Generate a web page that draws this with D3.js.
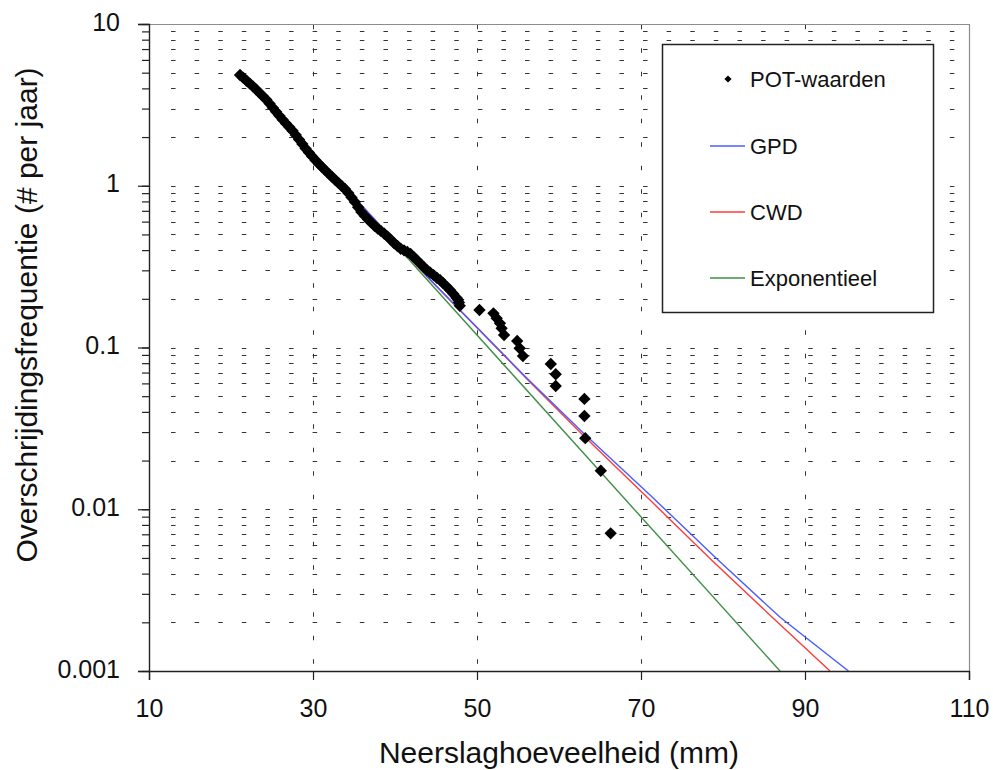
<!DOCTYPE html>
<html>
<head>
<meta charset="utf-8">
<script src="https://cdn.jsdelivr.net/npm/d3@7"></script>
<style>
  html, body { margin: 0; padding: 0; background: #fff; }
  svg { display: block; font-family: "Liberation Sans", Arial, sans-serif; }
</style>
</head>
<body>
<svg id="chart" width="993" height="770"></svg>
<script>
// ---------- data ----------
const xTickValues = [10, 30, 50, 70, 90, 110];
const xTickLabels = ["10", "30", "50", "70", "90", "110"];
const yTickValues = [0.001, 0.01, 0.1, 1, 10];
const yTickLabels = ["0.001", "0.01", "0.1", "1", "10"];
const xGridValues = [30, 50, 70, 90];

// POT-waarden: rainfall (mm) and exceedance frequency (# per year)
const potX = [21.1, 21.5, 21.9, 22.3, 22.7, 23.1, 23.5, 23.9, 24.3, 24.7,
  25.1, 25.5, 25.9, 26.3, 26.7, 27.1, 27.5, 27.9, 28.3, 28.7,
  29.1, 29.5, 29.9, 30.3, 30.7, 31.1, 31.5, 31.9, 32.3, 32.7,
  33.1, 33.5, 33.9, 34.3, 34.7, 35.1, 35.5, 35.9, 36.3, 36.7,
  37.1, 37.5, 37.9, 38.3, 38.7, 39.1, 39.5, 39.9, 40.3, 40.7,
  41.1, 41.5, 41.9, 42.3, 42.7, 43.1, 43.5, 43.9, 44.3, 44.7,
  45.1, 45.5, 45.9, 46.3, 46.7, 47.1, 47.5, 47.7, 47.8, 47.9,
  50.3, 52.0, 52.4, 52.8, 53.0, 53.3, 54.9, 55.2, 55.6, 59.0,
  59.6, 59.6, 63.1, 63.1, 63.2, 65.1, 66.3];
const potF = [4.84, 4.645, 4.457, 4.278, 4.105, 3.92, 3.741, 3.571, 3.409, 3.22,
  3.038, 2.866, 2.704, 2.562, 2.43, 2.306, 2.188, 2.058, 1.93, 1.811,
  1.698, 1.603, 1.518, 1.438, 1.368, 1.305, 1.246, 1.189, 1.137, 1.088,
  1.041, 0.997, 0.955, 0.902, 0.847, 0.794, 0.736, 0.687, 0.652, 0.621,
  0.592, 0.566, 0.543, 0.524, 0.505, 0.485, 0.463, 0.441, 0.424, 0.408,
  0.399, 0.39, 0.379, 0.362, 0.345, 0.33, 0.315, 0.301, 0.29, 0.28,
  0.27, 0.261, 0.249, 0.238, 0.227, 0.215, 0.203, 0.197, 0.19, 0.181,
  0.1706, 0.1627, 0.1515, 0.1411, 0.1314, 0.1195, 0.1097, 0.0989, 0.0886, 0.0791,
  0.0683, 0.0578, 0.0481, 0.0377, 0.0275, 0.0173, 0.0071];

// fitted curves
const gpdX = [21, 33, 44, 56, 63, 71.1, 79.4, 87, 95.3];
const gpdF = [5.01, 1.096, 0.272, 0.0653, 0.0295, 0.01225, 0.00485, 0.00214, 0.001];
const cwdX = [21, 33, 44, 56, 63, 71.1, 78.6, 86, 93.05];
const cwdF = [5.01, 1.096, 0.271, 0.0646, 0.0285, 0.0114, 0.00485, 0.00215, 0.001];
const expX = [21, 86.95];
const expF = [5.1, 0.001];

const legendNames = ["POT-waarden", "GPD", "CWD", "Exponentieel"];
const lineColors = {GPD: "#4a5cff", CWD: "#ff3b3b", Exponentieel: "#3d8f45"};

// ---------- layout ----------
const svg = d3.select("#chart");
const L = 149, R = 969, T = 24, B = 671;
const x = d3.scaleLinear().domain([10, 110]).range([L, R]);
const y = d3.scaleLog().domain([0.001, 10]).range([B, T]);

// minor grid values
const minorVals = [];
[0.001, 0.01, 0.1, 1].forEach(d => { for (let k = 1; k <= 9; k++) minorVals.push(+(k * d).toPrecision(3)); });
minorVals.push(10);

// horizontal dashed gridlines
svg.append("g").selectAll("line").data(minorVals.filter(v => v < 10)).join("line")
  .attr("x1", L + 22.05).attr("x2", R)
  .attr("y1", d => Math.round(y(d)) + 0.5).attr("y2", d => Math.round(y(d)) + 0.5)
  .attr("stroke", "#333").attr("stroke-width", 1)
  .attr("stroke-dasharray", "4.5 19.1");

// vertical dashed gridlines
svg.append("g").selectAll("line").data(xGridValues).join("line")
  .attr("x1", d => Math.round(x(d)) + 0.5).attr("x2", d => Math.round(x(d)) + 0.5)
  .attr("y1", T + 0.75).attr("y2", B)
  .attr("stroke", "#333").attr("stroke-width", 1)
  .attr("stroke-dasharray", "4.5 19");

// top and right frame (grey)
svg.append("line").attr("x1", L).attr("x2", R).attr("y1", T + 0.5).attr("y2", T + 0.5)
  .attr("stroke", "#8c8c8c").attr("stroke-width", 1.2);
svg.append("line").attr("x1", R + 0.5).attr("x2", R + 0.5).attr("y1", T).attr("y2", B)
  .attr("stroke", "#8c8c8c").attr("stroke-width", 1.2);

// clip
svg.append("clipPath").attr("id", "clip").append("rect")
  .attr("x", L).attr("y", T).attr("width", R - L).attr("height", B - T);

// fitted lines
const line = d3.line().x(d => x(d[0])).y(d => y(d[1]));
const series = [
  {name: "Exponentieel", xs: expX, fs: expF},
  {name: "CWD", xs: cwdX, fs: cwdF},
  {name: "GPD", xs: gpdX, fs: gpdF}
];
const gl = svg.append("g").attr("clip-path", "url(#clip)");
series.forEach(s => {
  gl.append("path").datum(s.xs.map((v, i) => [v, s.fs[i]]))
    .attr("d", line).attr("fill", "none")
    .attr("stroke", lineColors[s.name]).attr("stroke-width", 1.4);
});

// POT points (diamonds)
const diamond = d3.symbol().type(d3.symbolSquare).size(76);
svg.append("g").selectAll("path").data(potX.map((v, i) => [v, potF[i]])).join("path")
  .attr("d", diamond)
  .attr("transform", d => `translate(${x(d[0])},${y(d[1])}) rotate(45)`)
  .attr("fill", "#000");

// axes
const xAxis = d3.axisBottom(x).tickValues(xTickValues).tickSize(9)
  .tickFormat((d, i) => xTickLabels[i]);
const gx = svg.append("g").attr("transform", `translate(0,${B})`).call(xAxis);
gx.select(".domain").attr("stroke", "#222").attr("stroke-width", 1.4);
gx.selectAll(".tick line").attr("stroke", "#222").attr("stroke-width", 1.2);
gx.selectAll(".tick text").attr("font-size", 25).attr("fill", "#111")
  .attr("font-family", "'Liberation Sans', Arial, sans-serif").attr("y", 45.5).attr("dy", 0);

const yMinor = d3.axisLeft(y).tickValues(minorVals).tickSize(7).tickFormat("");
const gym = svg.append("g").attr("transform", `translate(${L},0)`).call(yMinor);
gym.select(".domain").remove();
gym.selectAll(".tick line").attr("stroke", "#222").attr("stroke-width", 1.2);

const yAxis = d3.axisLeft(y).tickValues(yTickValues).tickSize(11).tickPadding(18)
  .tickFormat((d, i) => yTickLabels[i]);
const gy = svg.append("g").attr("transform", `translate(${L},0)`).call(yAxis);
gy.select(".domain").attr("stroke", "#222").attr("stroke-width", 1.4);
gy.selectAll(".tick line").attr("stroke", "#222").attr("stroke-width", 1.2);
gy.selectAll(".tick text").attr("font-size", 25).attr("fill", "#111")
  .attr("font-family", "'Liberation Sans', Arial, sans-serif").attr("dy", 6);

// axis titles
svg.append("text").attr("x", (L + R) / 2).attr("y", 763)
  .attr("text-anchor", "middle").attr("font-size", 30).attr("fill", "#111")
  .text("Neerslaghoeveelheid (mm)");
svg.append("text").attr("transform", "translate(37,315) rotate(-90)")
  .attr("text-anchor", "middle").attr("font-size", 30).attr("fill", "#111")
  .text("Overschrijdingsfrequentie (# per jaar)");

// legend
const lg = svg.append("g");
lg.append("rect").attr("x", 662.5).attr("y", 44.5).attr("width", 271).attr("height", 268)
  .attr("fill", "#fff").attr("stroke", "#222").attr("stroke-width", 1.5);
const legendY = [79, 146, 212, 278];
legendNames.forEach((name, i) => {
  const ly = legendY[i];
  if (i === 0) {
    lg.append("path").attr("d", d3.symbol().type(d3.symbolSquare).size(26))
      .attr("transform", `translate(728,${ly}) rotate(45)`).attr("fill", "#000");
  } else {
    lg.append("line").attr("x1", 710).attr("x2", 745).attr("y1", ly).attr("y2", ly)
      .attr("stroke", lineColors[name]).attr("stroke-width", 1.5);
  }
  lg.append("text").attr("x", 750).attr("y", ly + 8).attr("font-size", 22).attr("fill", "#111")
    .text(name);
});
</script>
</body>
</html>
